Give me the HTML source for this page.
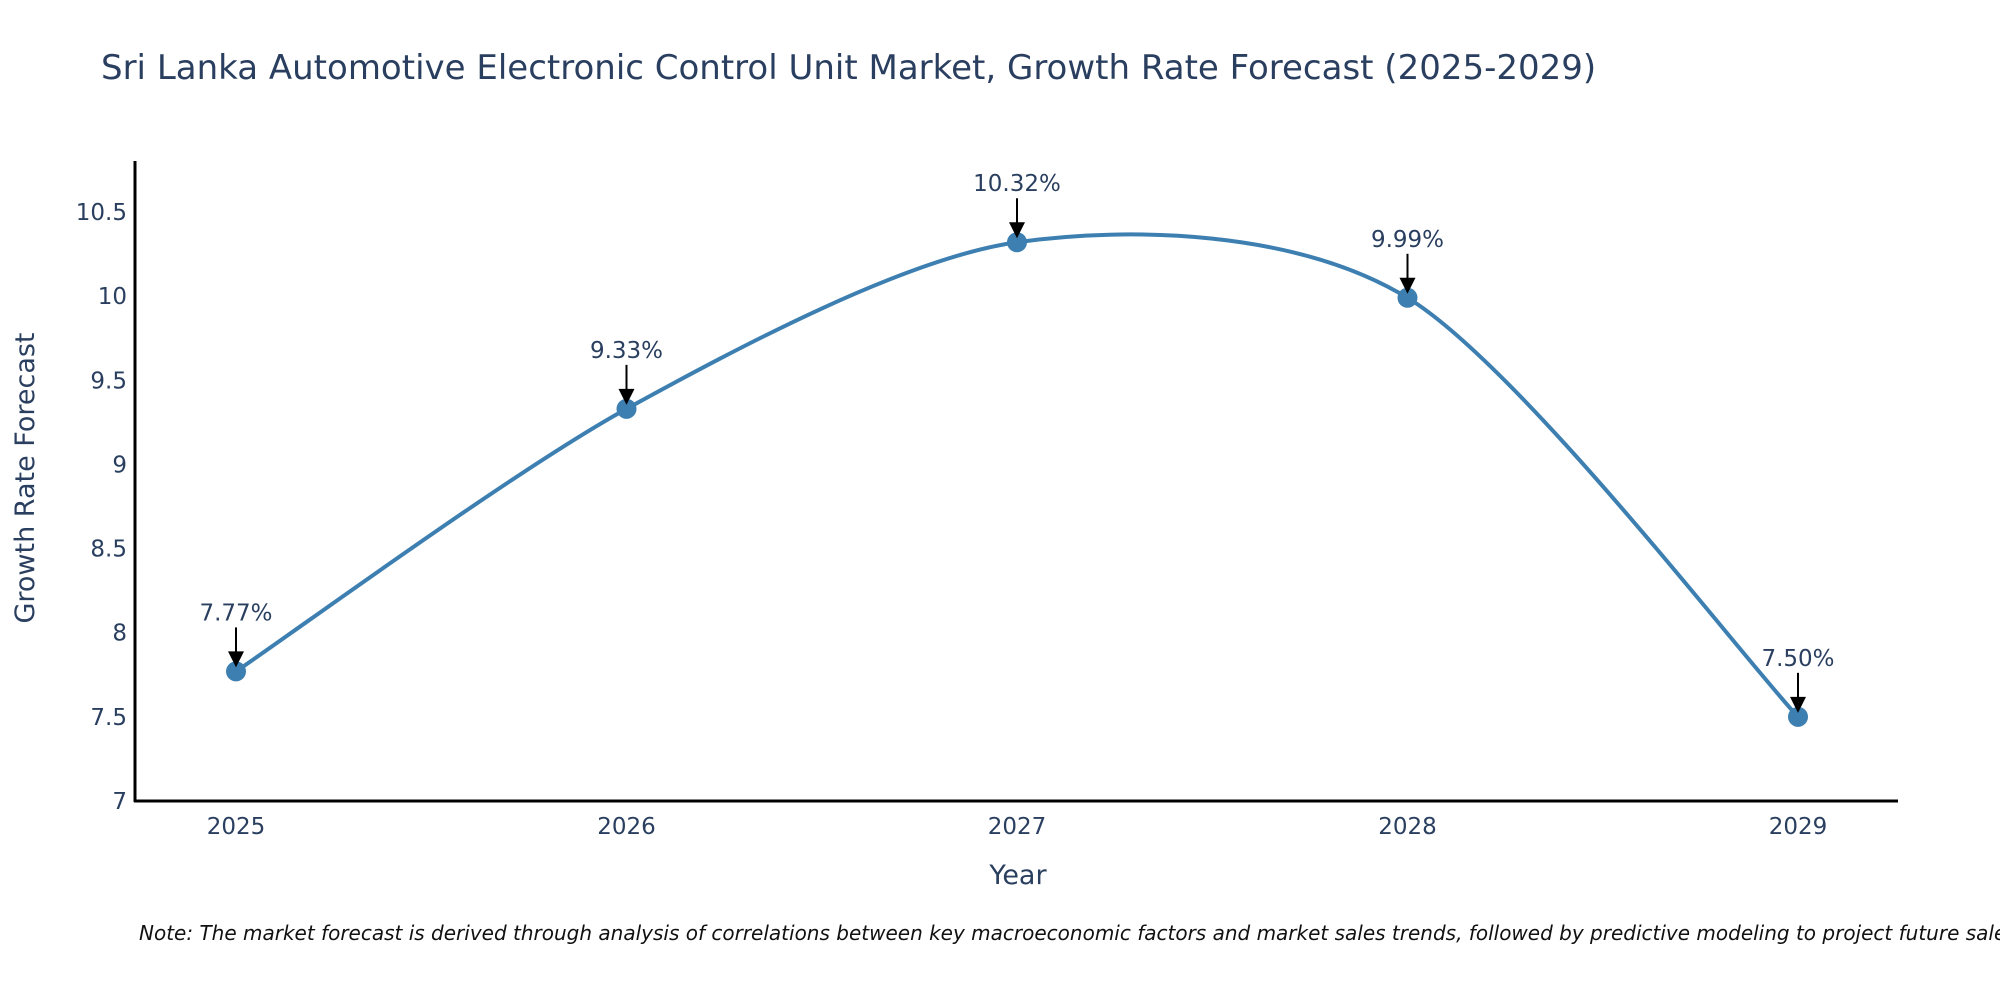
<!DOCTYPE html>
<html><head><meta charset="utf-8"><style>
body{margin:0;background:#fff;overflow:hidden;}
svg text{font-family:"DejaVu Sans","Liberation Sans",sans-serif;fill:#2a3f5f;}
</style></head><body>
<svg width="2000" height="1000">
<text x="101" y="79" font-size="34">Sri Lanka Automotive Electronic Control Unit Market, Growth Rate Forecast (2025-2029)</text>
<g id="axes"></g>
<g id="marks"></g>
<text x="1018" y="884" font-size="27" text-anchor="middle">Year</text>
<text transform="translate(34,478) rotate(-90)" font-size="27" text-anchor="middle">Growth Rate Forecast</text>
<text x="139" y="940" font-size="20" font-style="italic" style="fill:#111">Note: The market forecast is derived through analysis of correlations between key macroeconomic factors and market sales trends, followed by predictive modeling to project future sales.</text>
</svg>
<script>
const years=[2025,2026,2027,2028,2029];
const values=[7.77,9.33,10.32,9.99,7.50];
const labels=["7.77%","9.33%","10.32%","9.99%","7.50%"];
const yTicks=[7,7.5,8,8.5,9,9.5,10,10.5];
const yTickLabels=["7","7.5","8","8.5","9","9.5","10","10.5"];
const NS="http://www.w3.org/2000/svg";
const X=v=>236+(v-2025)*390.5;
const Y=v=>801-(v-7)*168.3;
function mk(t,a,p){const e=document.createElementNS(NS,t);for(const k in a)e.setAttribute(k,a[k]);p.appendChild(e);return e;}
const ax=document.getElementById('axes'),mg=document.getElementById('marks');
const xl=mk('line',{x1:134,y1:801,x2:1898,y2:801,stroke:'#000','stroke-width':3},ax);


const yl=mk('line',{x1:135,y1:161,x2:135,y2:802,stroke:'#000','stroke-width':3},ax);


yTicks.forEach((v,i)=>{const t=mk('text',{x:127,y:Y(v)+8,'font-size':23,'text-anchor':'end'},ax);t.textContent=yTickLabels[i];

});
years.forEach(v=>{const t=mk('text',{x:X(v),y:834,'font-size':23,'text-anchor':'middle'},ax);t.textContent=v;

});
const P=years.map((y,i)=>[X(y),Y(values[i])]);
let d=`M${P[0][0]},${P[0][1]}`;
const k=7;
for(let i=0;i<P.length-1;i++){const p0=P[i-1]||P[i],p1=P[i],p2=P[i+1],p3=P[i+2]||P[i+1];
d+=` C${p1[0]+(p2[0]-p0[0])/k},${p1[1]+(p2[1]-p0[1])/k} ${p2[0]-(p3[0]-p1[0])/k},${p2[1]-(p3[1]-p1[1])/k} ${p2[0]},${p2[1]}`;}
const line=mk('path',{d:d,fill:'none',stroke:'#3d7fb1','stroke-width':4},mg);


P.forEach((p,i)=>{const c=mk('circle',{cx:p[0],cy:p[1],r:10,fill:'#3d7fb1'},mg);


const a=mk('line',{x1:p[0],y1:p[1]-44,x2:p[0],y2:p[1]-18,stroke:'#000','stroke-width':2},mg);


const h=mk('polygon',{points:`${p[0]-8},${p[1]-20} ${p[0]+8},${p[1]-20} ${p[0]},${p[1]-4}`,fill:'#000'},mg);


const t=mk('text',{x:p[0],y:p[1]-51,'font-size':23,'text-anchor':'middle'},mg);t.textContent=labels[i];

});
</script>
</body></html>
